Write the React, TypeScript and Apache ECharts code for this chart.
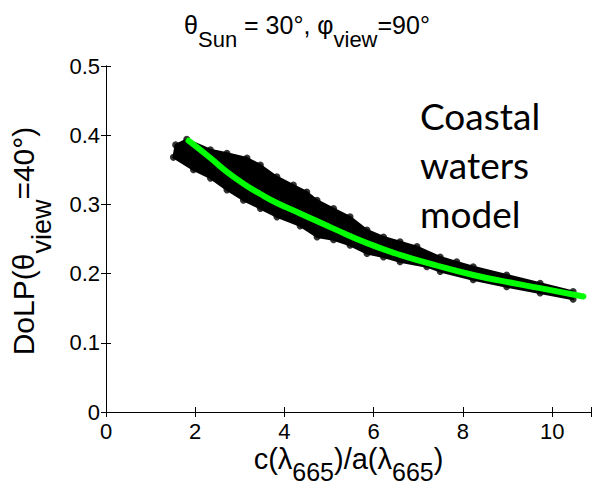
import React, { useEffect, useRef } from "react";
import * as echarts from "echarts";

// x ticks / axis ranges
const xTicks = [0, 2, 4, 6, 8, 10];
const yTicks = [0, 0.1, 0.2, 0.3, 0.4, 0.5];

// Upper envelope of the simulated (black) data cloud
const cloudUpper: [number, number][] = [
  [1.56, 0.386], [1.81, 0.394], [2.34, 0.379], [2.71, 0.374], [3.16, 0.367],
  [3.46, 0.357], [3.83, 0.340], [4.20, 0.328], [4.50, 0.318], [4.73, 0.306],
  [5.10, 0.294], [5.47, 0.282], [5.85, 0.263], [6.22, 0.253], [6.59, 0.246],
  [6.97, 0.239], [7.49, 0.224], [7.86, 0.217], [8.23, 0.210], [8.98, 0.198],
  [9.73, 0.186], [10.47, 0.174],
];

// Lower envelope of the simulated (black) data cloud
const cloudLower: [number, number][] = [
  [1.51, 0.368], [1.96, 0.350], [2.34, 0.338], [2.71, 0.321], [3.08, 0.306],
  [3.46, 0.294], [3.83, 0.282], [4.35, 0.269], [4.73, 0.253], [5.10, 0.249],
  [5.47, 0.241], [5.85, 0.229], [6.22, 0.224], [6.59, 0.217], [7.19, 0.210],
  [7.49, 0.203], [8.23, 0.191], [8.98, 0.181], [9.73, 0.172], [10.47, 0.163],
];

// Green model fit curve
const fitCurve: [number, number][] = [
  [1.85, 0.392], [2.34, 0.367], [2.71, 0.347], [3.08, 0.330], [3.46, 0.315],
  [3.83, 0.302], [4.35, 0.287], [5.10, 0.265], [5.85, 0.244], [6.59, 0.227],
  [7.34, 0.213], [8.23, 0.198], [8.98, 0.188], [9.73, 0.179], [10.70, 0.167],
];

const X_MIN = 0;
const X_MAX = 10.87;
const Y_MIN = 0;
const Y_MAX = 0.5;

const FONT = "Liberation Sans, Arial, sans-serif";

export default function App() {
  const ref = useRef<HTMLDivElement>(null);

  useEffect(() => {
    if (!ref.current) return;
    const chart = echarts.init(ref.current, undefined, { renderer: "svg" });

    const tickStyle = { show: true, inside: true, length: 5, lineStyle: { color: "#000", width: 1 } };
    const lineStyle = { show: true, lineStyle: { color: "#000", width: 1 } };

    const option: any = {
      animation: false,
      backgroundColor: "#fff",
      grid: { left: 106, top: 66, right: 3, bottom: 73, containLabel: false },
      xAxis: [
        {
          type: "value",
          min: X_MIN,
          max: X_MAX,
          interval: 2,
          axisLine: lineStyle,
          axisTick: tickStyle,
          splitLine: { show: false },
          axisLabel: {
            margin: 8,
            fontSize: 22,
            fontFamily: FONT,
            color: "#000",
            formatter: (v: number) => (xTicks.includes(Math.round(v * 1000) / 1000) ? String(v) : ""),
          },
        },
        {
          type: "value",
          position: "top",
          min: X_MIN,
          max: X_MAX,
          interval: 2,
          axisLine: lineStyle,
          axisTick: tickStyle,
          splitLine: { show: false },
          axisLabel: { show: false },
        },
      ],
      yAxis: [
        {
          type: "value",
          min: Y_MIN,
          max: Y_MAX,
          interval: 0.1,
          axisLine: lineStyle,
          axisTick: tickStyle,
          splitLine: { show: false },
          axisLabel: {
            margin: 6,
            fontSize: 22,
            fontFamily: FONT,
            color: "#000",
            formatter: (v: number) => {
              const r = Math.round(v * 10) / 10;
              return yTicks.includes(r) ? String(r) : "";
            },
          },
        },
        {
          type: "value",
          position: "right",
          min: Y_MIN,
          max: Y_MAX,
          interval: 0.1,
          axisLine: lineStyle,
          axisTick: tickStyle,
          splitLine: { show: false },
          axisLabel: { show: false },
        },
      ],
      series: [
        {
          type: "custom",
          xAxisIndex: 0,
          yAxisIndex: 0,
          data: [cloudUpper[0]],
          renderItem: (_params: any, api: any) => {
            const pts = [
              ...cloudUpper.map((p) => api.coord(p)),
              ...cloudLower.slice().reverse().map((p) => api.coord(p)),
            ];
            return {
              type: "polygon",
              shape: { points: pts },
              style: { fill: "#000", stroke: "#000", lineWidth: 2, lineJoin: "round" },
            };
          },
          z: 1,
        },
        {
          type: "scatter",
          xAxisIndex: 0,
          yAxisIndex: 0,
          data: [...cloudUpper, ...cloudLower],
          symbol: "circle",
          symbolSize: 7,
          itemStyle: { color: "#000" },
          z: 2,
        },
        {
          type: "line",
          xAxisIndex: 0,
          yAxisIndex: 0,
          data: fitCurve,
          smooth: 0.5,
          symbol: "none",
          lineStyle: { color: "#00ff00", width: 6, cap: "round" },
          z: 3,
        },
      ],
      graphic: [
        {
          type: "text",
          x: 307,
          y: 12,
          z: 10,
          style: {
            text: "{m|θ}{s|Sun}{m| = 30°, φ}{s|view}{m|=90°}",
            align: "center",
            verticalAlign: "top",
            fill: "#000",
            rich: {
              m: { fontSize: 25, lineHeight: 25, fontFamily: FONT, verticalAlign: "top", fill: "#000" },
              s: { fontSize: 22, lineHeight: 22, fontFamily: FONT, verticalAlign: "top", padding: [16, 0, 0, 0], fill: "#000" },
            },
          },
        },
        {
          type: "text",
          x: 348.5,
          y: 444,
          z: 10,
          style: {
            text: "{m|c(λ}{s|665}{m|)/a(λ}{s|665}{m|)}",
            align: "center",
            verticalAlign: "top",
            fill: "#000",
            rich: {
              m: { fontSize: 29, lineHeight: 29, fontFamily: FONT, verticalAlign: "top", fill: "#000" },
              s: { fontSize: 25, lineHeight: 25, fontFamily: FONT, verticalAlign: "top", padding: [15, 0, 0, 0], fill: "#000" },
            },
          },
        },
        {
          type: "text",
          x: 8,
          y: 241,
          rotation: Math.PI / 2,
          z: 10,
          style: {
            text: "{m|DoLP(θ}{s|view}{m|=40°)}",
            align: "center",
            verticalAlign: "top",
            fill: "#000",
            rich: {
              m: { fontSize: 30, lineHeight: 30, fontFamily: FONT, verticalAlign: "top", fill: "#000" },
              s: { fontSize: 27, lineHeight: 27, fontFamily: FONT, verticalAlign: "top", padding: [20, 0, 0, 0], fill: "#000" },
            },
          },
        },
        {
          type: "text",
          x: 420,
          y: 91,
          z: 10,
          style: {
            text: "Coastal\nwaters\nmodel",
            fontSize: 37,
            lineHeight: 49,
            fontFamily: "Lato, sans-serif",
            align: "left",
            verticalAlign: "top",
            fill: "#000",
          },
        },
      ],
    };

    chart.setOption(option);
    return () => chart.dispose();
  }, []);

  return (
    <div
      ref={ref}
      style={{ position: "absolute", left: 0, top: 0, width: 594, height: 485 }}
    />
  );
}
